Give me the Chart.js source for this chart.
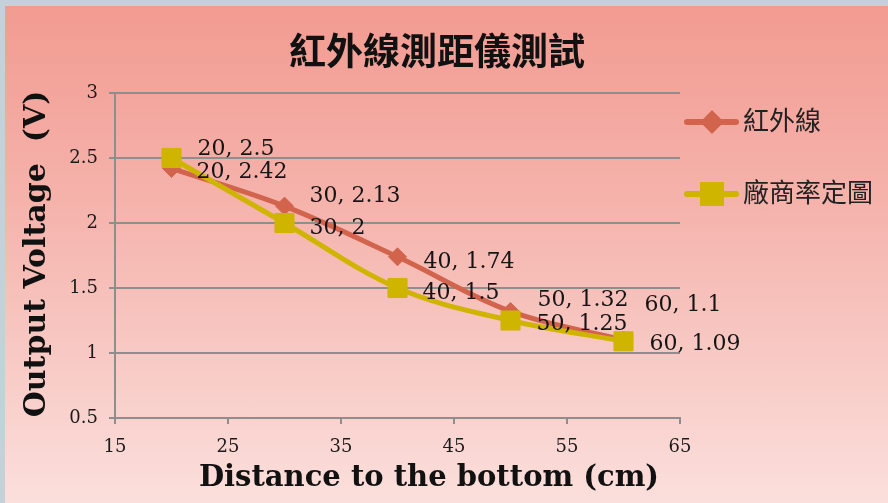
<!DOCTYPE html>
<html>
<head>
<meta charset="utf-8">
<title>紅外線測距儀測試</title>
<script src="https://cdn.jsdelivr.net/npm/chart.js@4/dist/chart.umd.min.js"></script>
<style>
  html, body { margin: 0; padding: 0; width: 888px; height: 503px; overflow: hidden; background: #c5d1d9; }
  #panel { position: absolute; left: 5px; top: 6px; width: 883px; height: 497px;
           background: linear-gradient(to bottom, #f29b91 0%, #f5b3ac 40%, #fbdfdc 100%); }
  #wrap { position: absolute; left: 0; top: 0; width: 888px; height: 503px; }
</style>
</head>
<body>
<div id="panel"></div>
<div id="wrap"><canvas id="c" width="888" height="503"></canvas></div>
<script>
// Measurement data: distance (cm) vs. output voltage (V)
const distances     = [20, 30, 40, 50, 60];
const sensorVoltage = [2.42, 2.13, 1.74, 1.32, 1.1];   // 紅外線
const vendorVoltage = [2.5, 2, 1.5, 1.25, 1.09];       // 廠商率定圖
const seriesNames   = ['紅外線', '廠商率定圖'];

// Axis ranges and tick steps
const xRange = [15, 65], xStep = 10;
const yRange = [0.5, 3], yStep = 0.5;

const chartTitle = '紅外線測距儀測試';
const xTitle = 'Distance to the bottom (cm)';
const yTitle = 'Output Voltage  (V)';

const RED = '#d2644d';
const GOLD = '#cfb400';
const GRID = '#8e8e8e';
const SERIF = '"DejaVu Serif", serif';
const CJK = '"Noto Sans CJK TC", "Noto Sans CJK SC", sans-serif';

const toPoints = ys => distances.map((x, i) => ({ x, y: ys[i] }));

// Per-point label nudges [dx, dy] so the value labels don't collide
const labelNudge = [
  [[25, 4], [25, -10], [26, 5], [27, -11], [21, -35]],
  [[26, -9], [25, 5], [25, 5], [26, 4], [26, 3]]
];

const decor = {
  id: 'decor',
  afterDatasetsDraw(chart) {
    const ctx = chart.ctx;
    ctx.save();
    ctx.font = '22px ' + SERIF;
    ctx.fillStyle = '#151515';
    ctx.textAlign = 'left';
    ctx.textBaseline = 'middle';
    chart.data.datasets.forEach((ds, di) => {
      const meta = chart.getDatasetMeta(di);
      const nudges = labelNudge[ds.labelSet];
      ds.data.forEach((p, pi) => {
        const el = meta.data[pi];
        const [dx, dy] = nudges[pi];
        ctx.fillText(p.x + ', ' + p.y, el.x + dx, el.y + dy);
      });
    });
    ctx.restore();
  },
  afterDraw(chart) {
    const ctx = chart.ctx;
    ctx.save();
    // chart title
    ctx.fillStyle = '#111';
    ctx.textAlign = 'center';
    ctx.textBaseline = 'middle';
    ctx.font = 'bold 37px ' + CJK;
    ctx.fillText(chartTitle, 437, 51);

    // axis titles
    ctx.font = 'bold 29px ' + SERIF;
    ctx.fillText(xTitle, 429, 478);
    ctx.save();
    ctx.translate(37, 254);
    ctx.rotate(-Math.PI / 2);
    ctx.font = 'bold 30px ' + SERIF;
    ctx.fillText(yTitle, 0, 0);
    ctx.restore();

    // legend: line + marker sample, then series name
    const rows = [122, 194];
    const legendOrder = [1, 0]; // dataset indices: 紅外線 first
    legendOrder.forEach((di, row) => {
      const ds = chart.data.datasets[di];
      const y = rows[row];
      ctx.strokeStyle = ds.borderColor;
      ctx.lineWidth = 6;
      ctx.lineCap = 'round';
      ctx.beginPath();
      ctx.moveTo(687, y);
      ctx.lineTo(736, y);
      ctx.stroke();
      Chart.helpers.drawPoint(ctx, {
        pointStyle: ds.pointStyle,
        radius: ds.pointStyle === 'rect' ? 12.5 : 7.5,
        borderWidth: 1
      }, 712, y);
      ctx.fillStyle = ds.pointBackgroundColor;
      ctx.strokeStyle = ds.pointBorderColor;
      ctx.fill();
      ctx.stroke();
      ctx.fillStyle = '#222';
      ctx.textAlign = 'left';
      ctx.textBaseline = 'middle';
      ctx.font = '26px ' + CJK;
      ctx.fillText(ds.label, 743, y - 2);
    });
    ctx.restore();
  }
};

new Chart(document.getElementById('c'), {
  type: 'line',
  data: {
    datasets: [
      {
        label: seriesNames[1],
        labelSet: 1,
        data: toPoints(vendorVoltage),
        borderColor: GOLD,
        backgroundColor: GOLD,
        pointBackgroundColor: GOLD,
        pointBorderColor: GOLD,
        borderWidth: 5,
        pointStyle: 'rect',
        pointRadius: 13.5,
        pointBorderWidth: 1,
        tension: 0.35,
        order: 1
      },
      {
        label: seriesNames[0],
        labelSet: 0,
        data: toPoints(sensorVoltage),
        borderColor: RED,
        backgroundColor: RED,
        pointBackgroundColor: RED,
        pointBorderColor: RED,
        borderWidth: 5,
        pointStyle: 'rectRot',
        pointRadius: 9,
        pointBorderWidth: 1,
        tension: 0.35,
        order: 2
      }
    ]
  },
  options: {
    responsive: false,
    devicePixelRatio: 1,
    animation: false,
    events: [],
    layout: { padding: { left: 0, right: 208, top: 93, bottom: 0 } },
    plugins: {
      legend: { display: false },
      title: { display: false },
      tooltip: { enabled: false }
    },
    scales: {
      x: {
        type: 'linear',
        min: xRange[0], max: xRange[1],
        afterFit: s => { s.height = 85; },
        afterBuildTicks: s => {
          s.ticks = [];
          for (let v = xRange[0]; v <= xRange[1] + 1e-9; v += xStep) s.ticks.push({ value: v });
        },
        ticks: { color: '#1a1a1a', font: { family: SERIF, size: 18 }, padding: 13, maxRotation: 0,
                 callback: v => String(v) },
        grid: { drawOnChartArea: false, drawTicks: true, tickLength: 6, color: GRID, lineWidth: 2 },
        border: { display: true, color: GRID, width: 2 }
      },
      y: {
        type: 'linear',
        min: yRange[0], max: yRange[1],
        afterFit: s => { s.width = 115; },
        ticks: { stepSize: yStep, color: '#1a1a1a', font: { family: SERIF, size: 18 }, padding: 11,
                 callback: v => String(v) },
        grid: { drawOnChartArea: true, drawTicks: true, tickLength: 6, color: GRID, lineWidth: 2 },
        border: { display: true, color: GRID, width: 2 }
      }
    }
  },
  plugins: [decor]
});
</script>
</body>
</html>
